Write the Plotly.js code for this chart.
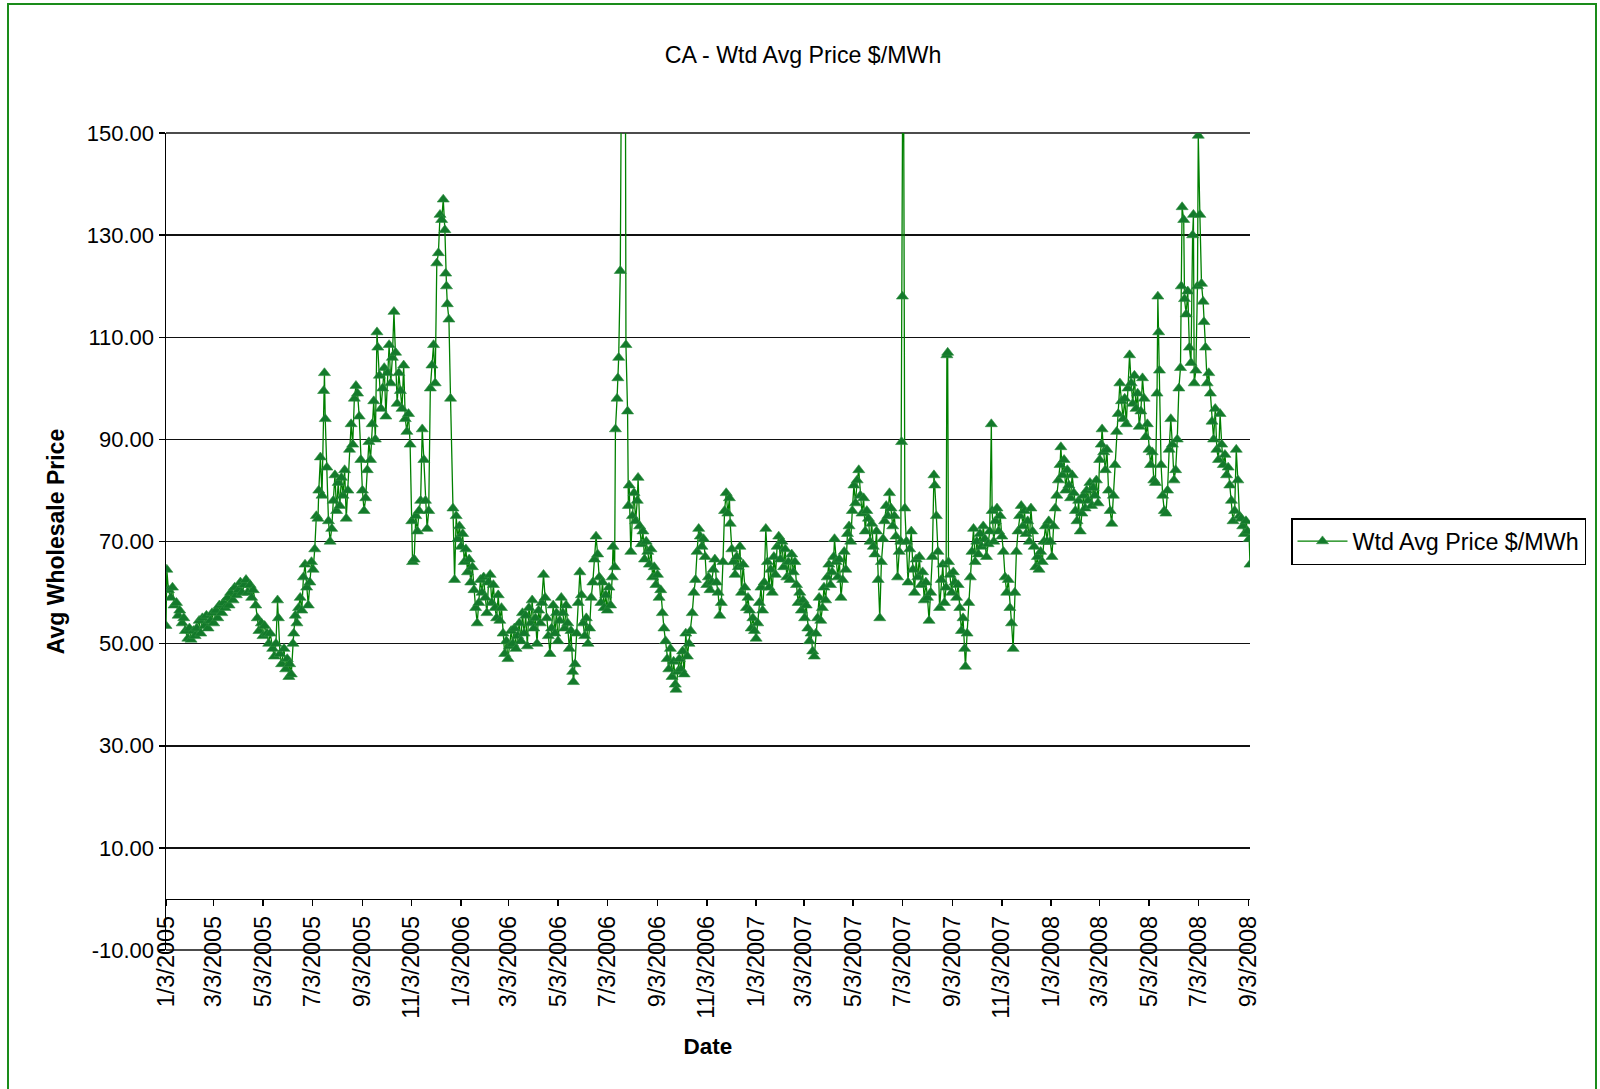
<!DOCTYPE html>
<html><head><meta charset="utf-8">
<script src="https://cdn.plot.ly/plotly-3.0.1.min.js"></script>
<style>html,body{margin:0;padding:0;background:#fff;} #chart{width:1600px;height:1089px;}</style>
</head><body><div id="chart"></div>
<script>
// ---- data (days after 1/3/2005, price $/MWh) ----
const startDate = '2005-01-03';
const dayOffsets = [
 0,1,3,6,8,10,13,15,17,20,22,24,27,29,31,34,36,38,
 41,43,45,48,50,52,55,57,59,62,64,66,69,71,73,76,78,80,83,85,87,90,92,94,97,99,101,104,
 106,108,111,113,115,118,120,122,125,127,129,132,134,136,138,139,141,143,146,148,150,152,153,155,157,158,160,162,164,166,168,170,172,174,176,178,180,182,184,186,
 188,189,191,193,195,196,197,199,201,203,205,207,209,211,213,215,217,219,221,223,225,227,229,231,233,235,237,239,241,243,245,247,249,251,253,255,257,259,261,262,
 264,266,268,270,272,274,276,278,280,282,284,286,288,290,292,294,296,298,300,302,304,305,307,309,311,313,315,317,319,321,323,325,327,329,331,333,335,337,339,341,343,345,346,347,348,350,352,355,357,
 359,361,363,365,367,369,371,373,375,377,379,381,383,385,387,389,391,393,395,397,399,401,403,405,407,409,411,413,415,417,419,421,423,425,427,429,431,433,435,437,439,441,443,445,447,449,451,453,455,457,459,461,463,465,467,469,471,473,475,477,479,481,483,485,487,489,491,493,495,497,499,501,503,
 504,506,508,510,512,514,516,518,520,522,524,526,528,530,532,534,536,538,540,542,544,546,548,550,552,553,555,
 556,558,559,560,562,564,566,568,569,571,
 572,573,575,577,579,581,583,584,586,588,590,592,594,596,598,600,602,604,606,608,610,612,614,616,618,620,622,624,626,628,630,631,633,635,637,639,641,643,645,647,649,651,653,655,657,659,661,663,665,667,669,671,673,675,677,679,681,683,685,687,689,691,693,695,697,698,700,702,704,706,708,710,712,714,716,718,720,722,724,726,728,730,732,
 734,736,738,740,742,744,746,748,750,752,754,756,758,760,762,764,766,768,770,772,774,776,778,780,782,784,786,788,790,792,794,796,798,800,802,804,806,808,810,812,814,816,818,820,822,824,826,827,829,831,833,835,837,839,841,843,845,847,849,851,853,855,857,859,861,863,865,867,869,871,873,875,877,879,881,883,885,887,889,891,893,895,897,899,901,903,905,907,
 909,910,911,912,914,
 916,918,920,922,924,926,928,930,932,934,936,938,940,942,944,946,948,950,951,953,955,957,959,961,963,965,966,967,968,970,972,974,976,978,980,982,984,986,988,989,991,993,995,997,999,1001,1003,1005,1007,1009,1011,1013,1015,1017,1019,1021,1022,1024,1026,1028,1030,1032,1034,1036,1038,1040,1042,1044,1046,1048,1050,1052,1054,1056,1058,1060,1062,1064,1066,1068,1070,1072,1074,1076,1078,1080,1082,1084,1086,1088,1090,1092,
 1094,1096,1098,1100,1102,1104,1106,1107,1109,1111,1113,1115,1117,1119,1121,1123,1125,1127,1129,1131,1133,1135,1137,1139,1141,1143,1145,1147,1149,1151,1153,1155,1157,1158,1160,1162,1164,1166,1168,1170,1172,1174,1176,1178,1180,1182,1184,1186,1188,1190,1192,1194,1196,1198,1200,1202,1204,1206,1208,1210,1212,1214,1216,1218,1220,1222,1224,1226,1227,1228,1229,1231,1233,1235,1237,1239,1241,1243,1245,1247,1249,1251,1253,1255,1256,1257,1259,1260,1262,1264,1266,1268,1270,1271,1272,1274,1276,1277,1279,1281,1283,1284,1286,1288,1290,1292,1294,1296,1298,1300,1302,1304,1306,1308,1310,1312,1314,1316,1318,1320,1322,1324,1326,1328,1330,1332,1334,1336,1338,1340,1341
];
const prices = [
 53.5,64.5,60.5,59,61,57.5,58,55.5,56.5,54,55,52.5,51,53,50.8,52.5,51.5,53,
 54.5,52,55,53.5,55.5,53,54.5,56,54,56.5,55,57.5,56,58,57,59,57.5,60,58.5,61,59.5,60.5,62,60,61.5,62.5,60,61.5,
 59,60.5,57.5,55,52.5,54,51.5,53.5,52,50,52,49,47.5,50,58.5,55,48,46,49,45,47,43.5,46,44,50,52,55.5,54,57,59,56.5,63,65.5,61,57.5,62,66,64.5,68.5,75,
 74.5,80,86.5,79,99.5,103,94,84.5,74,70,72.5,78,83,76,81.5,77,82.5,79,84,74.5,80,88,93,89,98,100.5,99,94.5,86,80,76,78.5,84,89.5,86,93,97.5,90,111,108,
 102.5,96,100,104,94.5,103,108.5,101,106,115,107,97,103,99.5,96,104.5,94,91.5,95,89,74,66,66.5,75,72,76,78,92,86,78,72.5,76,100,104.5,108.5,101,124.5,126.5,134,133,137,131,122.5,120,116.5,113.5,98,76.5,62.5,
 75,70.5,73,69,71.5,66,68.5,64,66.5,62,65,60.5,57,54,58,62.5,60,63,59,56,62,63.5,58,61.5,57,55,59.5,54.5,57,52,48,50.5,47,49.5,52.5,50,53,49,51.5,54,50.5,56,52,55.5,49.5,57,54,58.5,53,55,50,56.5,54,58,63.5,59,55,51.5,48,53,57.5,52,56,50.5,54.5,59,56,53,57.5,54,49,52.5,44.5,
 42.5,46,52,58,64,59.5,54,51.5,55,50,53,59,62,66.5,71,67.5,63,58,62,57,59.5,56.5,61,57.5,63,69,65,
 92,98,102,106,123,215,240,190,108.5,95.5,
 77,81,68,75,79.5,74,78,82.5,73,69.5,72,66.5,70,68,65.5,68.5,63,65,61.5,63.5,59,60.5,56,53,50.5,47,45,49,43.5,46.5,42,41,44.5,47,45,48.5,44,52,47.5,50,52.5,56,60,62.5,68,72.5,71,69,70.5,67,61.5,63,60.5,62,64.5,66.5,62,60,55.5,58,66,76,79.5,75.5,78.5,73.5,68.5,66,63.5,67,65,69,60,65.5,61,57,59,56.5,53,55,52.5,51,54,
 58,61,56.5,62,72.5,66,61,64.5,60,67,63.5,69,71,66.5,70,65,68.5,63,66,62.5,67.5,64,66,61.5,58,60,56.5,58.5,55,57.5,53,50.5,52,48.5,47.5,52,55,59,54.5,57,61,58.5,63,65.5,61.5,64,67,70.5,66,63,66.5,59,62.5,68,64.5,71.5,73,70,76,81,77.5,82,84,79,75.5,78.5,72,76,74.5,70,73.5,69,67.5,72,62.5,55,66,70.5,74,77,75,79.5,76.5,73,75,71,63,68,
 70,89.5,118,185,76.5,
 70,62,68.5,72,64.5,60,66.5,63,67,61.5,64,58.5,62,59,54.5,60,67,83,81,75,68,57,62.5,65.5,58,61,106.5,107,66,63.5,60,64,62,59,61.5,57,52.5,55,49,45.5,52,58,63,68,72.5,66,70,67.5,71.5,69,73,70.5,67,69.5,72,93,76,70,74,76.5,72,75,71,68,63,60,62.5,57,54,49,60,68,72,75,77,73,76,71.5,74,70,76.5,72,69,65,67,64.5,68,66,70,73,70,74,
 70,67,73,76.5,79,82,85,88.5,83,86,80,84,81,78.5,83,79.5,76,74,78,72,75.5,79,76.5,80,78,81.5,77,80.5,79,82,77.5,86,89,92,87.5,84,88,80,76,73.5,79,85,91.5,95,101,97.5,94,98,93,100,106.5,101,97,102.5,96,99,92.5,95.5,102,98,90.5,93,88,85,87.5,82,81.5,99,118,111,103.5,85,79,76,75.5,80,88,94,89,82,84,90,100,104,120,135.5,133,117.5,114.5,119,108,105,130,134,101,103.5,120,149.5,134,120.5,117,113,108,101,103,99,93.5,90,96,88,86,95,89,85,87,83,84.5,81,78,74,76,88,82,75,74.5,73,71.5,74,72,70.5,65.5
];
const seriesName = 'Wtd Avg Price $/MWh';
const yTickVals = [-10, 10, 30, 50, 70, 90, 110, 130, 150];
const xTickLabels = ['1/3/2005','3/3/2005','5/3/2005','7/3/2005','9/3/2005','11/3/2005',
 '1/3/2006','3/3/2006','5/3/2006','7/3/2006','9/3/2006','11/3/2006',
 '1/3/2007','3/3/2007','5/3/2007','7/3/2007','9/3/2007','11/3/2007',
 '1/3/2008','3/3/2008','5/3/2008','7/3/2008','9/3/2008'];
const xRange = ['2005-01-03', '2008-09-05'];
const yRange = [-10, 150];

if (dayOffsets.length !== prices.length) throw new Error('length mismatch ' + dayOffsets.length + ' vs ' + prices.length);

function isoFromOffset(d) {
  const p = startDate.split('-').map(Number);
  return new Date(Date.UTC(p[0], p[1]-1, p[2]) + d*86400000).toISOString().slice(0,10);
}
function isoFromLabel(s) {
  const [m, d, y] = s.split('/').map(Number);
  return y + '-' + String(m).padStart(2,'0') + '-' + String(d).padStart(2,'0');
}
const dates = dayOffsets.map(isoFromOffset);
const xTickDates = xTickLabels.map(isoFromLabel);

// ---- layout geometry ----
const W = 1600, H = 1089, L = 166, R = 350, T = 133, B = 139;
const PW = W - L - R, PH = H - T - B;
const FONT = 'Liberation Sans, Arial, sans-serif';
const px2paperX = p => (p - L) / PW;
const px2paperY = p => (H - B - p) / PH;
const GRID = {color: '#111', width: 1.5};

const trace = {
  type: 'scatter', mode: 'lines+markers', name: seriesName,
  x: dates, y: prices,
  line: {color: '#008000', width: 1.3},
  marker: {symbol: 'triangle-up', size: 10.5, color: '#137a2b', line: {color: '#2f8f3f', width: 0.6}},
  cliponaxis: true
};

const layout = {
  width: W, height: H,
  margin: {l: L, r: R, t: T, b: B, pad: 0},
  paper_bgcolor: '#ffffff', plot_bgcolor: '#ffffff',
  font: {family: FONT, size: 22, color: '#000'},
  title: {text: 'CA - Wtd Avg Price $/MWh', xref: 'container', x: 803/W, xanchor: 'center',
          yref: 'container', y: 1 - 55/H, yanchor: 'middle', font: {family: FONT, size: 23.2, color: '#000'}},
  xaxis: {
    type: 'date', range: xRange, anchor: 'free', position: (0 - yRange[0])/(yRange[1] - yRange[0]),
    showline: true, linecolor: '#000', linewidth: 1.5,
    ticks: 'outside', ticklen: 6, tickwidth: 1.5, tickcolor: '#000',
    tickvals: xTickDates, ticktext: xTickLabels, tickangle: -90,
    tickfont: {family: FONT, size: 23.5, color: '#000'},
    showgrid: false, zeroline: false,
    title: {text: '<b>Date</b>', standoff: 20, font: {family: FONT, size: 22.5, color: '#000'}}
  },
  yaxis: {
    range: yRange, tickvals: yTickVals, ticktext: yTickVals.map(v => v.toFixed(2)),
    showline: true, linecolor: '#000', linewidth: 1.5,
    ticks: 'outside', ticklen: 6, tickwidth: 1.5, tickcolor: '#000',
    tickfont: {family: FONT, size: 22, color: '#000'},
    showgrid: true, gridcolor: GRID.color, gridwidth: GRID.width, zeroline: false,
    title: {text: '<b>Avg Wholesale Price</b>', standoff: 16, font: {family: FONT, size: 23, color: '#000'}}
  },
  showlegend: true,
  legend: {xref: 'container', x: 1291/W, xanchor: 'left', yref: 'container', y: 1 - 518/H, yanchor: 'top',
           itemwidth: 50, bordercolor: '#000', borderwidth: 1.5, bgcolor: '#fff',
           font: {family: FONT, size: 23.3, color: '#000'}},
  shapes: [
    // gridlines at the very top (150) and bottom (-10) of the plot area
    {type: 'line', xref: 'paper', yref: 'paper', x0: 0, x1: 1, y0: 1, y1: 1, layer: 'below', line: GRID},
    {type: 'line', xref: 'paper', yref: 'paper', x0: 0, x1: 1, y0: 0, y1: 0, layer: 'below', line: GRID},
    // green outer border of the chart area
    {type: 'rect', xref: 'paper', yref: 'paper', layer: 'above',
     x0: px2paperX(8), x1: px2paperX(1596), y0: px2paperY(1110), y1: px2paperY(4),
     line: {color: '#1a8c1a', width: 2}, fillcolor: 'rgba(0,0,0,0)'}
  ]
};

Plotly.newPlot('chart', [trace], layout, {displayModeBar: false, staticPlot: true});
</script>
</body></html>
